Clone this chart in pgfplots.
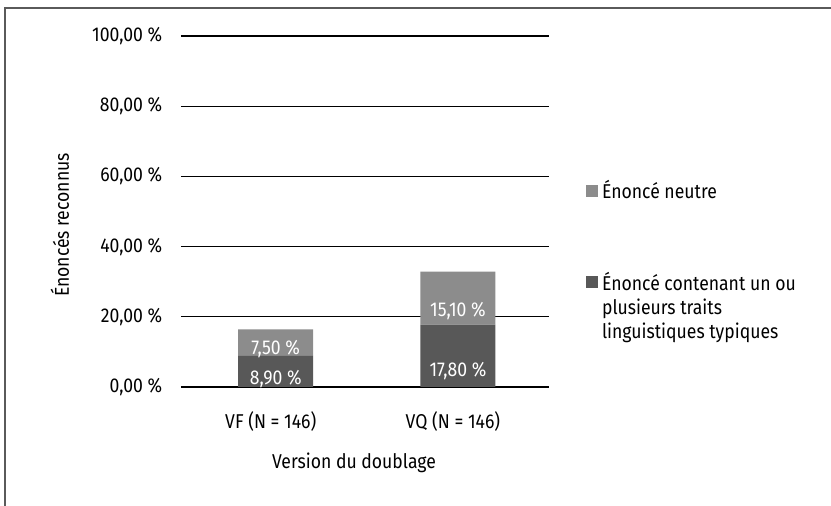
\documentclass[border=0pt]{standalone}
\usepackage{fontspec}
\setmainfont{Fira Sans}[FakeStretch=0.88]
\usepackage{pgfplots}
\pgfplotsset{compat=1.18}
\definecolor{darkbar}{HTML}{585858}
\definecolor{lightbar}{HTML}{8C8C8C}
\definecolor{framec}{HTML}{5A5A5A}
\begin{document}
\fontsize{20}{24}\selectfont
\begin{tikzpicture}[x=1pt,y=1pt]
\useasboundingbox (0,0) rectangle (831,506);
\draw[line width=1.5pt, framec] (5,-2) -- (5,498) -- (833,498);
\begin{axis}[
  at={(181pt,119pt)}, anchor=south west,
  scale only axis, width=368pt, height=351pt,
  ybar stacked, bar width=75pt,
  xmin=-0.52, xmax=1.5, ymin=0, ymax=100,
  xtick={0,1}, xticklabels={VF (N = 146), VQ (N = 146)},
  ytick={0,20,...,100},
  yticklabel={\pgfmathprintnumber[fixed,fixed zerofill,precision=2,use comma]{\tick}~\%},
  /pgf/number format/assume math mode=true,
  ymajorgrids, grid style={black, line width=1.3pt},
  axis line style={draw=none},
  major tick length=0pt,
  yticklabel style={xshift=-12pt},
  xticklabel style={yshift=-18pt, xshift=-5pt},
  xlabel={Version du doublage},
  ylabel={Énoncés reconnus},
  xlabel style={at={(axis description cs:0.5,0)}, anchor=center, yshift=-76pt, xshift=-11pt},
  ylabel style={at={(axis description cs:-0.329,0.4615)}, anchor=center},
  visualization depends on=rawy \as \rawy,
  nodes near coords={\pgfmathprintnumber[fixed,fixed zerofill,precision=2,use comma]{\rawy}~\%},
  nodes near coords align={center},
  every node near coord/.append style={anchor=center, yshift={-\rawy*0.8775pt}, text=white},
  legend style={draw=none, fill=none, at={(axis description cs:1.092,0.6)}, anchor=north west,
    cells={anchor=base west}, row sep=66pt, column sep=2pt},
  reverse legend,
  legend image code/.code={\fill[#1] (0pt,2pt) rectangle (12pt,14pt);},
]
\addplot[fill=darkbar, draw=none] coordinates {(0,8.9) (1,17.8)};
\addlegendentry{\vtop{\hbox{Énoncé contenant un ou}\hbox{plusieurs traits}\hbox{linguistiques typiques}}}
\addplot[fill=lightbar, draw=none] coordinates {(0,7.5) (1,15.1)};
\addlegendentry{Énoncé neutre}
\end{axis}
\end{tikzpicture}
\end{document}
